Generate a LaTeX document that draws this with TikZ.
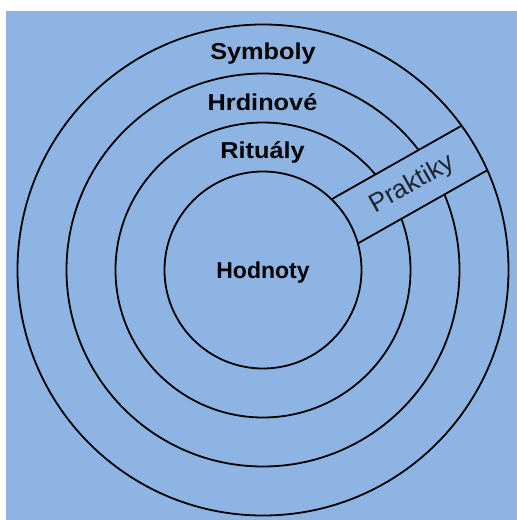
\documentclass[tikz,border=0pt]{standalone}
\usepackage{fontspec}
\setmainfont{Liberation Sans}
\definecolor{bgblue}{RGB}{141,180,227}
\definecolor{praktik}{RGB}{30,36,48}
\begin{document}
\begin{tikzpicture}[x=1pt,y=-1pt,
  ring/.style={draw=black,line width=1.8pt},
  outerlabel/.style={font=\fontsize{23}{27}\selectfont\bfseries,anchor=base,xscale=1.1,inner sep=0pt},
  corelabel/.style={font=\fontsize{23}{27}\selectfont\bfseries,anchor=base,inner sep=0pt}]
\useasboundingbox (0,0) rectangle (517,520);
\fill[white] (0,0) rectangle (517,520);
\fill[bgblue] (6,11) rectangle (517,520);
\coordinate (c) at (263,270);
% middle rings
\draw[ring] (c) circle[radius=196.5];
\draw[ring] (c) circle[radius=147.5];
% band
\begin{scope}[shift={(c)},rotate=29.5]
  \coordinate (ui) at (94.5,-27.8);
  \coordinate (uo) at (243.9,-27.8);
  \coordinate (lo) at (244.4,23.6);
  \coordinate (li) at (95.6,23.6);
  \fill[bgblue] (ui) -- (uo) -- (lo) -- (li) -- cycle;
  \node[font=\fontsize{26}{30}\selectfont,text=praktik,rotate=29.5,inner sep=0pt] (prak) at (172,-1) {Praktiky};
\end{scope}
\draw[ring] (c) circle[radius=98.5];
\draw[ring] (c) circle[radius=245.5];
\draw[ring] (ui) -- (uo);
\draw[ring] (li) -- (lo);
% labels
\node[outerlabel] (sym) at (263,59.3) {Symboly};
\node[outerlabel] (hrd) at (262.5,110) {Hrdinové};
\node[outerlabel] (rit) at (262.5,158.5) {Rituály};
\node[corelabel] (hod) at (263,278.3) {Hodnoty};
\end{tikzpicture}
\end{document}
